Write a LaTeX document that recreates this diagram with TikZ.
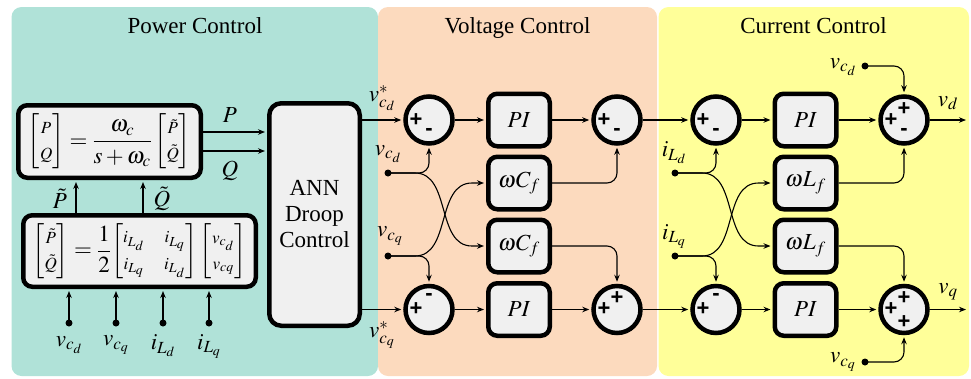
\documentclass[tikz,border=0pt]{standalone}
\usepackage{amsmath}
\usepackage{mathptmx}
\usepackage{fontspec}
\setmainfont{Liberation Serif}
\setsansfont{Liberation Sans}
\usetikzlibrary{arrows.meta,calc}
\definecolor{pteal}{RGB}{176,226,216}
\definecolor{ppeach}{RGB}{252,218,190}
\definecolor{pyellow}{RGB}{255,255,153}
\definecolor{nodegray}{RGB}{240,240,240}
\begin{document}
\begin{tikzpicture}[x=1pt,y=-1pt, font=\fontsize{23}{26}\selectfont,
 blk/.style={draw, line width=4.5pt, fill=nodegray, rounded corners=9pt, inner sep=0pt},
 ctl/.style={blk, minimum width=61.5pt, minimum height=52.5pt},
 sumc/.style={draw, circle, line width=4.5pt, fill=nodegray, minimum size=47pt, inner sep=0pt},
 sgn/.style={font=\fontsize{22}{22}\sffamily\bfseries\selectfont, inner sep=0pt},
 conn/.style={line width=1.1pt, -{Stealth[length=7pt,width=5.5pt]}, shorten >=2pt},
 rconn/.style={conn, rounded corners=10pt},
 dot/.style={circle, fill=black, minimum size=7pt, inner sep=0pt},
 lab/.style={inner sep=0pt},
 panel/.style={rounded corners=10pt}
]
\useasboundingbox (0,0) rectangle (971,378);
% panels
\fill[pteal, panel] (11.5,7) rectangle (378,376);
\fill[ppeach, panel] (378,7) rectangle (657,376);
\fill[pyellow, panel] (658.5,7) rectangle (969,376);
\node[anchor=base] (t1) at (195,33) {Power Control};
\node[anchor=base] (t2) at (517.5,33) {Voltage Control};
\node[anchor=base] (t3) at (813.5,33) {Current Control};

% power control
\node[blk, minimum width=182.5pt, minimum height=72.5pt] (lpf) at (109.5,141.5)
 {$\begin{bmatrix}\scriptstyle P\\ \scriptstyle Q\end{bmatrix} = \dfrac{\omega_c}{s+\omega_c}\begin{bmatrix}\scriptstyle \tilde P\\ \scriptstyle\tilde Q\end{bmatrix}$};
\node[blk, minimum width=232.5pt, minimum height=71.5pt] (pq) at (139.5,251)
 {$\begin{bmatrix}\scriptstyle\tilde P\\ \scriptstyle\tilde Q\end{bmatrix} = \dfrac12 {\arraycolsep=10pt\begin{bmatrix}\scriptstyle i_{L_d} & \scriptstyle i_{L_q}\\ \scriptstyle i_{L_q} & \scriptstyle i_{L_d}\end{bmatrix}}\begin{bmatrix}\scriptstyle v_{c_d}\\ \scriptstyle v_{cq}\end{bmatrix}$};
\node[blk, rounded corners=12pt, minimum width=90.5pt, minimum height=222.5pt, align=center] (ann) at (314.5,214.5) {ANN\\Droop\\Control};

\coordinate (pp) at ($(lpf.east)+(0,-9.5)$);
\coordinate (qq) at ($(lpf.east)+(0,9.5)$);
\draw[conn] (pp) -- (pp -| ann.west);
\draw[conn] (qq) -- (qq -| ann.west);
\node[lab] (lP) at (230,115) {$P$};
\node[lab] (lQ) at (230,171) {$Q$};

\coordinate (ptx) at (76,0);
\coordinate (qtx) at (143,0);
\draw[conn] (ptx |- pq.north) -- (ptx |- lpf.south);
\draw[conn] (qtx |- pq.north) -- (qtx |- lpf.south);
\node[lab] (lPt) at (60,199) {$\tilde P$};
\node[lab] (lQt) at (162,199) {$\tilde Q$};

\node[dot] (in1) at (69,323) {};
\node[dot] (in2) at (116,323) {};
\node[dot] (in3) at (163,323) {};
\node[dot] (in4) at (209,323) {};
\foreach \n in {in1,in2,in3,in4} \draw[conn] (\n.center) -- (\n |- pq.south);
\node[lab] (lin1) at (69,345) {$v_{c_d}$};
\node[lab] (lin2) at (116,345) {$v_{c_q}$};
\node[lab] (lin3) at (163,346) {$i_{L_d}$};
\node[lab] (lin4) at (209,346) {$i_{L_q}$};

% voltage control
\node[sumc] (s1) at (429,120) {};
\node[sumc] (s2) at (617,120) {};
\node[sumc] (s3) at (429,309.5) {};
\node[sumc] (s4) at (617,309.5) {};
\node[ctl] (pi1) at (519,120) {$PI$};
\node[ctl] (wc1) at (519,183) {$\omega C_f$};
\node[ctl] (wc2) at (519,246) {$\omega C_f$};
\node[ctl] (pi2) at (519,309.5) {$PI$};

% current control
\node[sumc] (s5) at (716,120) {};
\node[sumc] (s6) at (904,120) {};
\node[sumc] (s7) at (716,309.5) {};
\node[sumc] (s8) at (904,309.5) {};
\node[ctl] (pi3) at (805.5,120) {$PI$};
\node[ctl] (wl1) at (805.5,183) {$\omega L_f$};
\node[ctl] (wl2) at (805.5,246) {$\omega L_f$};
\node[ctl] (pi4) at (805.5,309.5) {$PI$};

% signs
\foreach \s in {s1,s2,s3,s4,s5,s6,s7,s8} \node[sgn] (\s pl) at ($(\s)+(-13,0)$) {+};
\node[sgn] (s1m) at ($(s1)+(0,12)$) {-};
\node[sgn] (s2m) at ($(s2)+(0,12)$) {-};
\node[sgn] (s3m) at ($(s3)+(0,-13)$) {-};
\node[sgn] (s4t) at ($(s4)+(0,-11)$) {+};
\node[sgn] (s5m) at ($(s5)+(0,12)$) {-};
\node[sgn] (s6t) at ($(s6)+(0,-11)$) {+};
\node[sgn] (s6m) at ($(s6)+(0,12)$) {-};
\node[sgn] (s7m) at ($(s7)+(0,-13)$) {-};
\node[sgn] (s8t) at ($(s8)+(0,-11)$) {+};
\node[sgn] (s8b) at ($(s8)+(0,13)$) {+};

% main paths
\coordinate (vdout) at (968,120);
\coordinate (vqout) at (968,309.5);
\draw[conn] (ann.east |- s1) -- (s1);
\draw[conn] (ann.east |- s3) -- (s3);
\draw[conn] (s1) -- (pi1);
\draw[conn] (pi1) -- (s2);
\draw[conn] (s2) -- (s5);
\draw[conn] (s5) -- (pi3);
\draw[conn] (pi3) -- (s6);
\draw[conn] (s6) -- (vdout);
\draw[conn] (s3) -- (pi2);
\draw[conn] (pi2) -- (s4);
\draw[conn] (s4) -- (s7);
\draw[conn] (s7) -- (pi4);
\draw[conn] (pi4) -- (s8);
\draw[conn] (s8) -- (vqout);
\node[lab] (lvsd) at (382,98) {$v^*_{c_d}$};
\node[lab] (lvsq) at (382,335) {$v^*_{c_q}$};
\node[lab] (lvd) at (948,103) {$v_d$};
\node[lab] (lvq) at (948,292) {$v_q$};

% voltage feedback
\node[dot] (vcd) at (388,173) {};
\node[dot] (vcq) at (388,256) {};
\node[lab] (lvcd) at (388,154) {$v_{c_d}$};
\node[lab] (lvcq) at (390,236) {$v_{c_q}$};
\draw[rconn] (vcd.center) -| (s1);
\draw[rconn] (vcq.center) -| (s3);
\draw[conn] (vcd.center) -- ++(27,0) to[out=0,in=180] ($(wc2.west)+(-14,0)$) -- (wc2.west);
\draw[conn] (vcq.center) -- ++(27,0) to[out=0,in=180] ($(wc1.west)+(-14,0)$) -- (wc1.west);
\draw[rconn] (wc1.east) -| (s2);
\draw[rconn] (wc2.east) -| (s4);

% current feedback
\node[dot] (ild) at (675,173) {};
\node[dot] (ilq) at (675,256) {};
\node[lab] (lild) at (674,153) {$i_{L_d}$};
\node[lab] (lilq) at (674,236) {$i_{L_q}$};
\draw[rconn] (ild.center) -| (s5);
\draw[rconn] (ilq.center) -| (s7);
\draw[conn] (ild.center) -- ++(27,0) to[out=0,in=180] ($(wl2.west)+(-14,0)$) -- (wl2.west);
\draw[conn] (ilq.center) -- ++(27,0) to[out=0,in=180] ($(wl1.west)+(-14,0)$) -- (wl1.west);
\draw[rconn] (wl1.east) -| (s6);
\draw[rconn] (wl2.east) -| (s8);

\node[dot] (vcd2) at (865,66) {};
\node[dot] (vcq2) at (865,362) {};
\node[lab] (lvcd2) at (843,67) {$v_{c_d}$};
\node[lab] (lvcq2) at (843,362) {$v_{c_q}$};
\draw[rconn] (vcd2.center) -| (s6);
\draw[rconn] (vcq2.center) -| (s8);
\end{tikzpicture}
\end{document}
